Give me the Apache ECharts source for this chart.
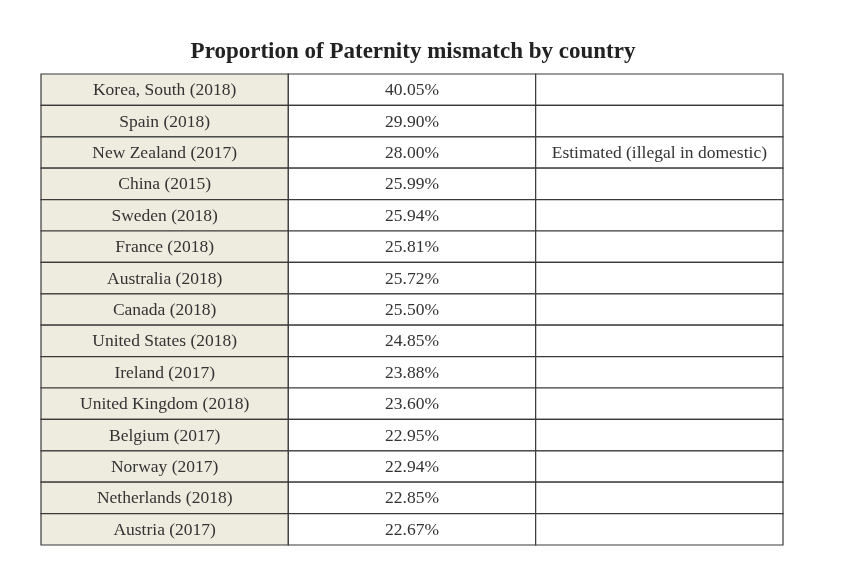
<!DOCTYPE html>
<html><head><meta charset="utf-8">
<script src="https://cdn.jsdelivr.net/npm/echarts@6/dist/echarts.min.js"></script>
<style>html,body{margin:0;padding:0;background:#fff}#c{width:850px;height:571px}</style>
</head><body><div id="c"></div>
<script>
const titleText = 'Proportion of Paternity mismatch by country';
const countries = ['Korea, South (2018)','Spain (2018)','New Zealand (2017)','China (2015)','Sweden (2018)','France (2018)','Australia (2018)','Canada (2018)','United States (2018)','Ireland (2017)','United Kingdom (2018)','Belgium (2017)','Norway (2017)','Netherlands (2018)','Austria (2017)'];
const values = [40.05,29.90,28.00,25.99,25.94,25.81,25.72,25.50,24.85,23.88,23.60,22.95,22.94,22.85,22.67];
const notes = ['','','Estimated (illegal in domestic)','','','','','','','','','','','',''];
const columns = ['country','value','note'];

const cells = [];
const texts = [];
countries.forEach((c, r) => {
  cells.push([0, r]); texts.push(c);
  cells.push([1, r]); texts.push(values[r].toFixed(2) + '%');
  cells.push([2, r]); texts.push(notes[r]);
});

const chart = echarts.init(document.getElementById('c'));
chart.setOption({
  animation: false,
  backgroundColor: '#fff',
  title: { text: titleText, left: 408, top: 36, textAlign: 'center',
    textStyle: { fontFamily: 'Liberation Serif', fontWeight: 'bold', fontSize: 23, color: '#222' } },
  grid: { left: 41, right: 67, top: 74, bottom: 26 },
  xAxis: { type: 'category', data: columns, show: false },
  yAxis: { type: 'category', data: countries, inverse: true, show: false },
  series: [{
    type: 'custom',
    data: cells,
    encode: { x: 0, y: 1 },
    renderItem: function (params, api) {
      const p = api.coord([api.value(0), api.value(1)]);
      const s = api.size([1, 1]);
      const col = api.value(0);
      return {
        type: 'group',
        children: [
          { type: 'rect', shape: { x: p[0] - s[0] / 2, y: p[1] - s[1] / 2, width: s[0], height: s[1] },
            style: { fill: col === 0 ? '#eeebdf' : '#ffffff', stroke: '#3a3a3a', lineWidth: 1.2 } },
          { type: 'text', x: p[0], y: p[1] + 1,
            style: { text: texts[params.dataIndex], align: 'center', verticalAlign: 'middle',
              fontFamily: 'Liberation Serif', fontSize: 17.5, fill: '#333' } }
        ]
      };
    }
  }]
});
</script></body></html>
